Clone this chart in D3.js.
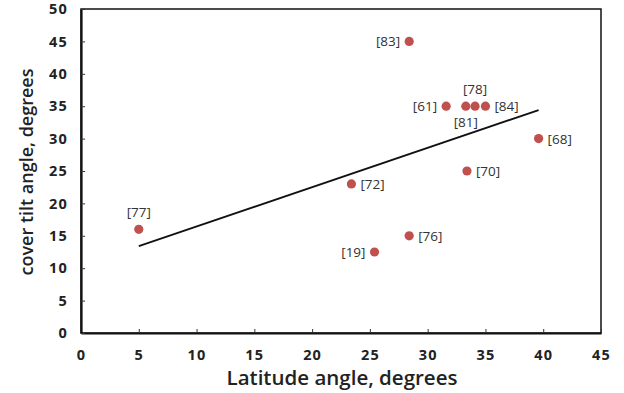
<!DOCTYPE html>
<html>
<head>
<meta charset="utf-8">
<script src="https://cdn.jsdelivr.net/npm/d3@7"></script>
<style>
  body { margin: 0; background: #fff; }
  svg { display: block; font-family: 'Open Sans', sans-serif; }
</style>
</head>
<body>
<div id="chart"></div>
<script>
var width = 624,
	height = 393;

// points: latitude, tilt angle, reference tag
var latitude = [5.0, 23.4, 25.4, 28.4, 33.4, 28.4, 31.6, 33.3, 34.1, 35.0, 39.6];
var tilt     = [16, 23, 12.5, 15, 25, 45, 35, 35, 35, 35, 30];
var refs     = ['[77]', '[72]', '[19]', '[76]', '[70]', '[83]', '[61]', '[81]', '[78]', '[84]', '[68]'];
// where the tag sits relative to its dot
var labelPos = ['top', 'right', 'left', 'right', 'right', 'left', 'left', 'bottom', 'top', 'right', 'right'];

// trend line ends
var trendX = [5.0, 39.6];
var trendY = [13.4, 34.4];

var xTicks = [0, 5, 10, 15, 20, 25, 30, 35, 40, 45];
var yTicks = [0, 5, 10, 15, 20, 25, 30, 35, 40, 45, 50];

var margin = { left: 81, top: 9, right: 23, bottom: 60 };

var svg = d3.select('#chart').append('svg')
	.attr('width', width)
	.attr('height', height);

var x = d3.scaleLinear().domain([0, 45]).range([margin.left, width - margin.right]);
var y = d3.scaleLinear().domain([0, 50]).range([height - margin.bottom, margin.top]);

// plot frame
svg.append('rect')
	.attr('x', x(0))
	.attr('y', y(50))
	.attr('width', x(45) - x(0))
	.attr('height', y(0) - y(50))
	.attr('fill', 'none')
	.attr('stroke', '#111')
	.attr('stroke-width', 1.5);

var xAxis = svg.append('g')
	.attr('transform', 'translate(0,' + y(0) + ')')
	.call(d3.axisBottom(x).tickValues(xTicks).tickSizeInner(-4).tickSizeOuter(0));

var yAxis = svg.append('g')
	.attr('transform', 'translate(' + x(0) + ',0)')
	.call(d3.axisLeft(y).tickValues(yTicks).tickSizeInner(-4).tickSizeOuter(0).tickPadding(13));

[xAxis, yAxis].forEach(function(a) {
	a.select('.domain').attr('stroke', '#111').attr('stroke-width', 2.2);
	a.selectAll('.tick line').attr('stroke', '#333').attr('stroke-width', 1);
	a.selectAll('.tick text')
		.attr('font-family', 'Open Sans, sans-serif')
		.attr('font-size', 14.5)
		.attr('font-weight', 700)
		.attr('letter-spacing', 1.2)
		.attr('fill', '#222');
});
xAxis.selectAll('.tick text').attr('y', 27).attr('dy', 0);

// axis titles
svg.append('text')
	.attr('x', (x(0) + x(45)) / 2 + 1)
	.attr('y', 385)
	.attr('text-anchor', 'middle')
	.attr('font-size', 20.5)
	.attr('font-weight', 600)
	.attr('fill', '#222')
	.text('Latitude angle, degrees');

svg.append('text')
	.attr('transform', 'translate(33,172) rotate(-90)')
	.attr('text-anchor', 'middle')
	.attr('font-size', 18)
	.attr('font-weight', 600)
	.attr('fill', '#222')
	.text('cover tilt angle, degrees');

// trend line
svg.append('line')
	.attr('x1', x(trendX[0]))
	.attr('y1', y(trendY[0]))
	.attr('x2', x(trendX[1]))
	.attr('y2', y(trendY[1]))
	.attr('stroke', '#111')
	.attr('stroke-width', 1.8);

var pts = latitude.map(function(d, i) {
	return { lat: d, tilt: tilt[i], ref: refs[i], pos: labelPos[i] };
});

svg.selectAll('.dot')
	.data(pts)
	.enter().append('circle')
	.attr('class', 'dot')
	.attr('cx', function(d) { return x(d.lat); })
	.attr('cy', function(d) { return y(d.tilt); })
	.attr('r', 4.6)
	.attr('fill', '#c0504d');

svg.selectAll('.ref')
	.data(pts)
	.enter().append('text')
	.attr('class', 'ref')
	.attr('font-size', 13.5)
	.attr('fill', '#333')
	.attr('x', function(d) {
		if (d.pos === 'left') return x(d.lat) - 9;
		if (d.pos === 'right') return x(d.lat) + 9;
		return x(d.lat);
	})
	.attr('y', function(d) {
		if (d.pos === 'top') return y(d.tilt) - 12;
		if (d.pos === 'bottom') return y(d.tilt) + 21;
		return y(d.tilt) + 5;
	})
	.attr('text-anchor', function(d) {
		if (d.pos === 'left') return 'end';
		if (d.pos === 'right') return 'start';
		return 'middle';
	})
	.text(function(d) { return d.ref; });
</script>
</body>
</html>
